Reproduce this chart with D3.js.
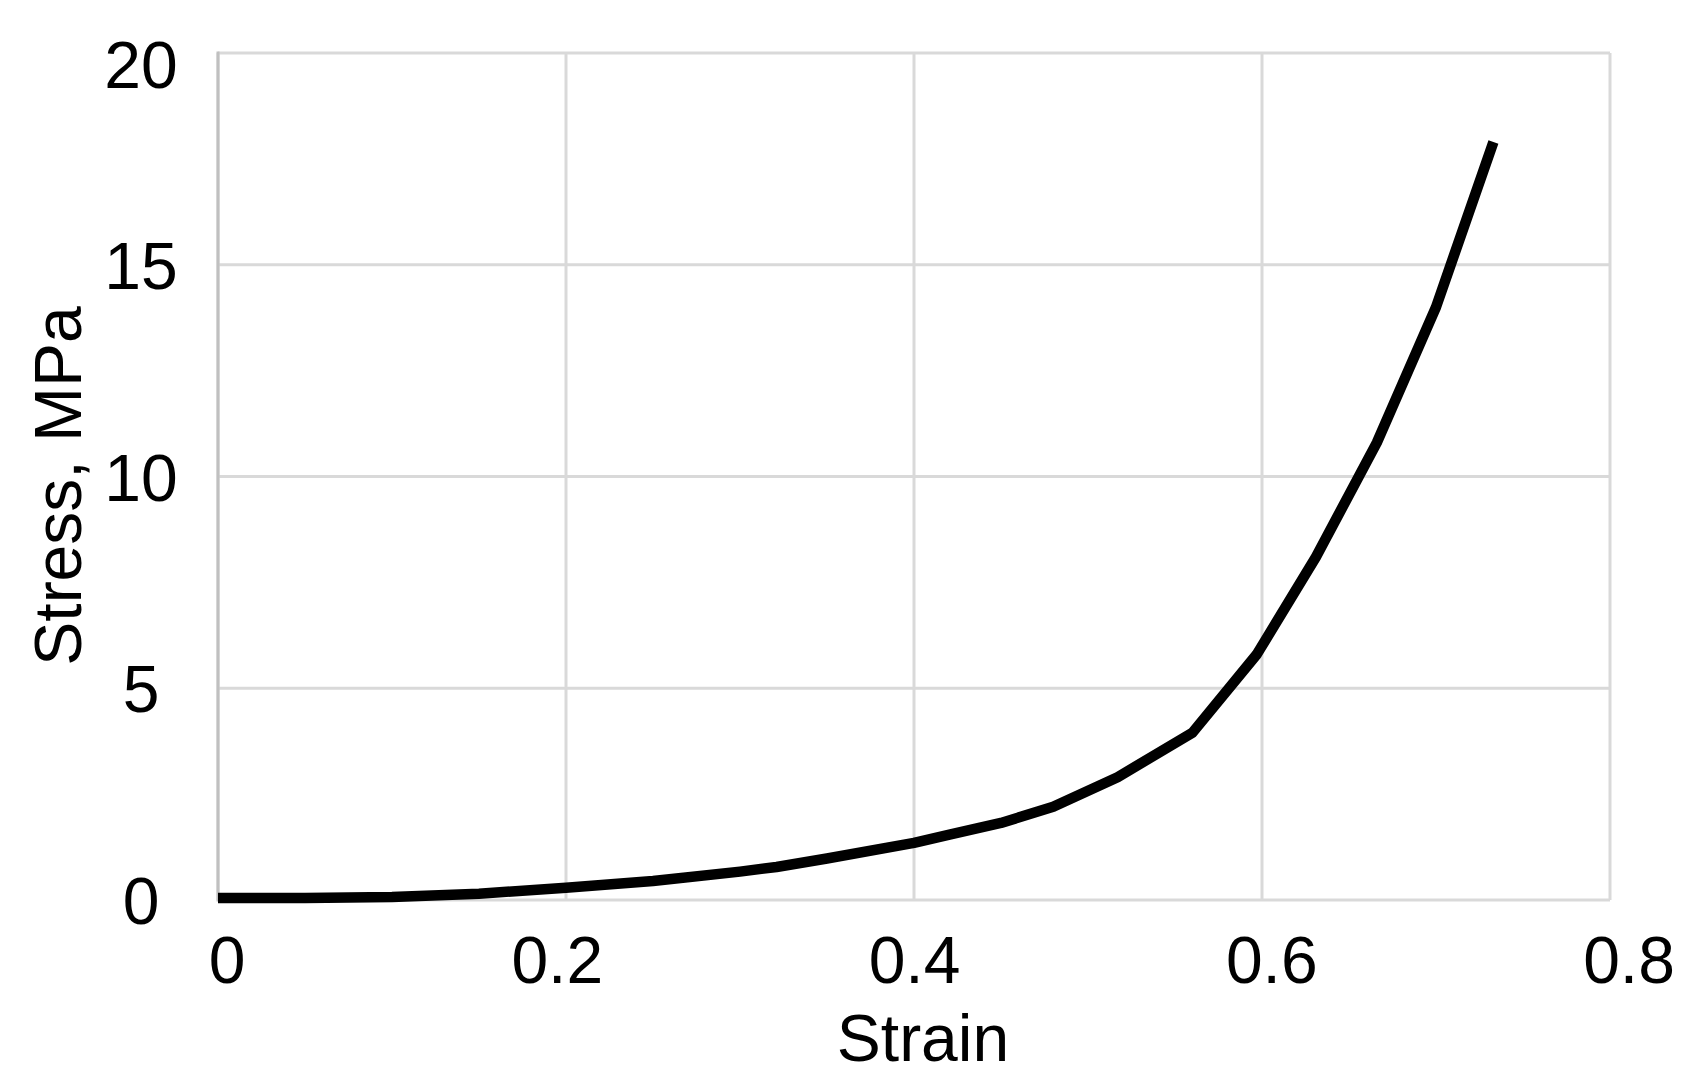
<!DOCTYPE html>
<html>
<head>
<meta charset="utf-8">
<script src="https://cdn.jsdelivr.net/npm/d3@7"></script>
<style>
  html, body { margin: 0; padding: 0; background: #ffffff; }
  svg { display: block; }
  text { font-family: "Liberation Sans", Arial, sans-serif; fill: #000000; }
</style>
</head>
<body>
<svg id="chart" width="1702" height="1086"></svg>
<script>
// ---- data ----
const strain = [0, 0.05, 0.10, 0.15, 0.20, 0.25, 0.30, 0.321, 0.35, 0.40, 0.421, 0.45, 0.48, 0.517, 0.56, 0.597, 0.631, 0.666, 0.700, 0.733];
const stress = [0.05, 0.05, 0.07, 0.15, 0.29, 0.45, 0.67, 0.78, 0.98, 1.35, 1.55, 1.82, 2.20, 2.90, 3.95, 5.80, 8.10, 10.80, 14.00, 17.90];
const xTicks = [0, 0.2, 0.4, 0.6, 0.8];
const xTickLabels = ["0", "0.2", "0.4", "0.6", "0.8"];
const yTicks = [0, 5, 10, 15, 20];
const yTickLabels = ["0", "5", "10", "15", "20"];
const xTitle = "Strain";
const yTitle = "Stress, MPa";

// ---- layout ----
const plot = { left: 218, right: 1610, top: 53, bottom: 900 };
const svg = d3.select("#chart");

const x = d3.scaleLinear().domain([0, 0.8]).range([plot.left, plot.right]);
const y = d3.scaleLinear().domain([0, 20]).range([plot.bottom, plot.top]);
// tick labels in the reference are spread slightly wider than the grid
const xLab = d3.scaleLinear().domain([0, 0.8]).range([200, 1629]);

const fontSize = 66;

// grid lines
svg.append("g").selectAll("line.vg")
  .data(xTicks)
  .join("line")
  .attr("x1", d => x(d)).attr("x2", d => x(d))
  .attr("y1", plot.top).attr("y2", plot.bottom)
  .attr("stroke", "#d9d9d9").attr("stroke-width", 3);

svg.append("g").selectAll("line.hg")
  .data(yTicks)
  .join("line")
  .attr("x1", plot.left).attr("x2", plot.right)
  .attr("y1", d => y(d)).attr("y2", d => y(d))
  .attr("stroke", "#d9d9d9").attr("stroke-width", 3);

// left axis line (darker)
svg.append("line")
  .attr("x1", x(0)).attr("x2", x(0))
  .attr("y1", y(20) - 1.5).attr("y2", y(0) + 1.5)
  .attr("stroke", "#c0c0c0").attr("stroke-width", 3);

// curve
const pts = strain.map((s, i) => [s, stress[i]]);
svg.append("path")
  .datum(pts)
  .attr("fill", "none")
  .attr("stroke", "#000000")
  .attr("stroke-width", 10.5)
  .attr("stroke-linejoin", "round")
  .attr("stroke-linecap", "butt")
  .attr("d", d3.line().x(d => x(d[0])).y(d => y(d[1])).curve(d3.curveLinear));

// x tick labels
svg.append("g").selectAll("text")
  .data(xTicks)
  .join("text")
  .attr("x", d => xLab(d))
  .attr("dx", (d, i) => i === 0 ? 27 : 0)
  .attr("y", 983)
  .attr("text-anchor", "middle")
  .attr("font-size", fontSize)
  .text((d, i) => xTickLabels[i]);

// y tick labels
svg.append("g").selectAll("text")
  .data(yTicks)
  .join("text")
  .attr("x", 141)
  .attr("y", d => y(d))
  .attr("dy", d => d === 20 ? 35 : 24)
  .attr("text-anchor", "middle")
  .attr("font-size", fontSize)
  .text((d, i) => yTickLabels[i]);

// axis titles
svg.append("text")
  .attr("x", 923).attr("y", 1061)
  .attr("text-anchor", "middle")
  .attr("font-size", fontSize)
  .text(xTitle);

svg.append("text")
  .attr("transform", "translate(81,486) rotate(-90)")
  .attr("text-anchor", "middle")
  .attr("font-size", fontSize)
  .text(yTitle);
</script>
</body>
</html>
